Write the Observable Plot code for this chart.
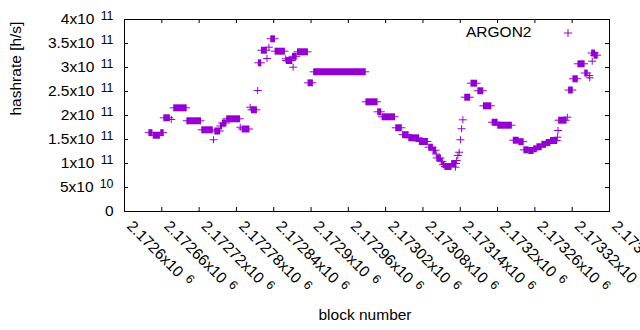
<!DOCTYPE html>
<html><head><meta charset="utf-8">
<script src="https://cdn.jsdelivr.net/npm/d3@7"></script>
<script src="https://cdn.jsdelivr.net/npm/@observablehq/plot@0.6"></script>
<style>
html,body{margin:0;padding:0;background:#fff;overflow:hidden;}
</style></head><body><div id="chart"></div>
<script>
const seriesName = "ARGON2";
const xLabel = "block number";
const yLabel = "hashrate [h/s]";
const seriesColor = "#9400d3";

// runs of consecutive blocks with the same hashrate (single points have start == end)
const runStart = [
  2172640, 2172647, 2172659, 2172664, 2172676, 2172680, 2172701, 2172725, 2172744, 2172746,
  2172755, 2172758, 2172765, 2172787, 2172790, 2172803, 2172805, 2172815, 2172816, 2172821,
  2172830, 2172833, 2172836, 2172843, 2172860, 2172861, 2172871, 2172872, 2172879, 2172896,
  2172905, 2172989, 2173008, 2173015, 2173037, 2173048, 2173058, 2173075, 2173090, 2173097,
  2173102, 2173103, 2173110, 2173113, 2173116, 2173127, 2173133, 2173135, 2173137, 2173139,
  2173141, 2173143, 2173145, 2173148, 2173158, 2173169, 2173178, 2173192, 2173201, 2173226,
  2173235, 2173243, 2173251, 2173259, 2173264, 2173272, 2173279, 2173286, 2173297, 2173298,
  2173299, 2173313, 2173315, 2173322, 2173330, 2173341, 2173348, 2173349, 2173353, 2173352,
  2173356
];
const runEnd = [
  2172645, 2172657, 2172663, 2172673, 2172676, 2172700, 2172723, 2172742, 2172744, 2172754,
  2172757, 2172764, 2172786, 2172787, 2172801, 2172803, 2172813, 2172815, 2172820, 2172829,
  2172830, 2172833, 2172842, 2172858, 2172860, 2172870, 2172877, 2172872, 2172895, 2172903,
  2172988, 2173007, 2173013, 2173035, 2173046, 2173057, 2173074, 2173088, 2173096, 2173101,
  2173102, 2173109, 2173112, 2173115, 2173126, 2173134, 2173133, 2173135, 2173137, 2173139,
  2173141, 2173143, 2173145, 2173156, 2173167, 2173177, 2173190, 2173200, 2173223, 2173234,
  2173242, 2173250, 2173258, 2173263, 2173271, 2173278, 2173285, 2173296, 2173297, 2173298,
  2173311, 2173313, 2173321, 2173329, 2173340, 2173345, 2173348, 2173349, 2173353, 2173357,
  2173361
];
const runHashrate = [
  1.642e11, 1.589e11, 1.642e11, 1.952e11, 1.917e11, 2.160e11, 1.890e11, 1.702e11, 1.494e11, 1.677e11,
  1.781e11, 1.844e11, 1.931e11, 1.756e11, 1.719e11, 2.173e11, 2.119e11, 2.521e11, 3.098e11, 3.360e11,
  3.187e11, 3.423e11, 3.598e11, 3.340e11, 3.181e11, 3.146e11, 3.233e11, 3.006e11, 3.327e11, 2.681e11,
  2.910e11, 2.285e11, 2.077e11, 1.973e11, 1.744e11, 1.600e11, 1.535e11, 1.458e11, 1.340e11, 1.277e11,
  1.198e11, 1.115e11, 1.046e11, 0.975e11, 0.937e11, 1.000e11, 0.923e11, 1.062e11, 1.167e11, 1.235e11,
  1.494e11, 1.723e11, 1.910e11, 2.381e11, 2.673e11, 2.515e11, 2.202e11, 1.860e11, 1.798e11, 1.485e11,
  1.454e11, 1.285e11, 1.271e11, 1.306e11, 1.348e11, 1.400e11, 1.437e11, 1.479e11, 1.548e11, 1.687e11,
  1.902e11, 1.965e11, 2.531e11, 2.765e11, 3.077e11, 2.885e11, 2.833e11, 2.785e11, 3.131e11, 3.302e11,
  3.256e11
];

const xTicks = [2172600, 2172660, 2172720, 2172780, 2172840, 2172900, 2172960, 2173020, 2173080, 2173140, 2173200, 2173260, 2173320, 2173380];
const xTickMantissa = ["2.1726x10", "2.17266x10", "2.17272x10", "2.17278x10", "2.17284x10", "2.1729x10", "2.17296x10", "2.17302x10", "2.17308x10", "2.17314x10", "2.1732x10", "2.17326x10", "2.17332x10", "2.17338x10"];
const xTickExponent = ["6", "6", "6", "6", "6", "6", "6", "6", "6", "6", "6", "6", "6", "6"];
const yTicks = [0, 5e10, 1e11, 1.5e11, 2e11, 2.5e11, 3e11, 3.5e11, 4e11];
const yTickMantissa = ["0", "5x10", "1x10", "1.5x10", "2x10", "2.5x10", "3x10", "3.5x10", "4x10"];
const yTickExponent = ["", "10", "11", "11", "11", "11", "11", "11", "11"];

const runs = runStart.map((s, i) => ({start: s, end: runEnd[i], hashrate: runHashrate[i]}));

const plusSymbol = {
  draw(context, size) {
    const r = Math.sqrt(size / Math.PI);
    context.moveTo(-r, 0); context.lineTo(r, 0);
    context.moveTo(0, -r); context.lineTo(0, r);
  }
};

const chart = Plot.plot({
  width: 640, height: 330,
  marginLeft: 124, marginRight: 31, marginTop: 19, marginBottom: 119,
  x: {domain: [xTicks[0], xTicks[xTicks.length - 1]], axis: null},
  y: {domain: [yTicks[0], yTicks[yTicks.length - 1]], axis: null},
  style: {fontFamily: "'Liberation Sans', Arial, sans-serif", fontSize: "15.5px", background: "#fff", color: "#000", overflow: "visible"},
  marks: [
    Plot.ruleY(runs, {y: "hashrate", x1: "start", x2: "end", stroke: seriesColor, strokeWidth: 7, insetLeft: -0.5, insetRight: -0.5}),
    Plot.ruleY(runs, {y: "hashrate", x1: "start", x2: "end", stroke: seriesColor, strokeWidth: 1, insetLeft: -4, insetRight: -4}),
    Plot.frame({stroke: "#000"}),
    Plot.tickX(xTicks, {x: d => d, insetTop: 188, stroke: "#000"}),
    Plot.tickX(xTicks, {x: d => d, insetBottom: 188, stroke: "#000"}),
    Plot.tickY(yTicks, {y: d => d, insetRight: 481, stroke: "#000"}),
    Plot.tickY(yTicks, {y: d => d, insetLeft: 481, stroke: "#000"}),
    Plot.text(yTicks, {y: d => d, frameAnchor: "left", dx: -11, textAnchor: "end", lineAnchor: "middle",
      text: (d, i) => yTickMantissa[i] + (yTickExponent[i] ? "^" + yTickExponent[i] : "")}),
    Plot.text(xTicks, {x: d => d, frameAnchor: "bottom", dx: 5, dy: 12, rotate: 45, textAnchor: "start", lineAnchor: "middle",
      text: (d, i) => xTickMantissa[i] + "^" + xTickExponent[i]}),
    Plot.text([yLabel], {frameAnchor: "left", dx: -108.5, rotate: -90, lineAnchor: "middle"}),
    Plot.text([xLabel], {frameAnchor: "bottom", dx: -2, dy: 104, lineAnchor: "middle"}),
    Plot.text([seriesName], {frameAnchor: "top-right", dx: -78, dy: 13, textAnchor: "end", lineAnchor: "middle"}),
    Plot.dot([seriesName], {frameAnchor: "top-right", dx: -41.5, dy: 13.5, symbol: plusSymbol, r: 4, stroke: seriesColor, fill: "none", strokeWidth: 1})
  ]
});

chart.querySelectorAll("text").forEach(t => {
  const s = t.textContent;
  if (s.includes("^")) {
    const [m, e] = s.split("^");
    t.textContent = m;
    const ts = document.createElementNS("http://www.w3.org/2000/svg", "tspan");
    ts.setAttribute("font-size", "0.8em");
    ts.setAttribute("dx", "0.5em");
    ts.setAttribute("dy", "-0.35em");
    ts.textContent = e;
    t.appendChild(ts);
  }
});

document.getElementById("chart").appendChild(chart);
</script>
</body></html>
